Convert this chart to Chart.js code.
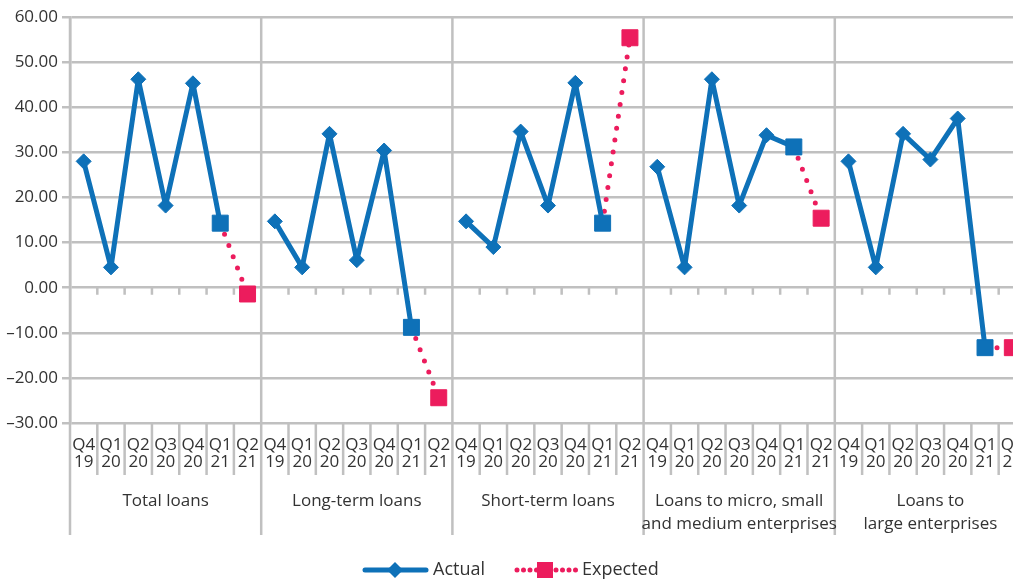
<!DOCTYPE html>
<html>
<head>
<meta charset="utf-8">
<script src="https://cdn.jsdelivr.net/npm/chart.js@4/dist/chart.umd.min.js"></script>
<style>
  html, body { margin: 0; padding: 0; background: #fff; overflow: hidden; }
  #wrap { width: 1040px; height: 586px; position: relative; }
</style>
</head>
<body>
<div id="wrap"><canvas id="chart"></canvas></div>
<script>
const GROUPS = [
  ['Total loans'],
  ['Long-term loans'],
  ['Short-term loans'],
  ['Loans to micro, small', 'and medium enterprises'],
  ['Loans to', 'large enterprises'],
];
const QUARTERS = [['Q4', '19'], ['Q1', '20'], ['Q2', '20'], ['Q3', '20'], ['Q4', '20'], ['Q1', '21'], ['Q2', '21']];

// actual values per group, Q4 19 .. Q1 21 (Q2 21 not yet known)
const ACTUAL_TOTAL = [28.0, 4.5, 46.2, 18.2, 45.3, 14.3, null];
const ACTUAL_LONG  = [14.7, 4.5, 34.1, 6.1, 30.4, -8.8, null];
const ACTUAL_SHORT = [14.7, 9.0, 34.6, 18.2, 45.4, 14.3, null];
const ACTUAL_SME   = [26.8, 4.5, 46.2, 18.2, 33.8, 31.2, null];
const ACTUAL_LARGE = [28.0, 4.5, 34.1, 28.4, 37.5, -13.3, null];

// expected: from last actual (Q1 21) to Q2 21
const EXPECTED_TOTAL = [null, null, null, null, null, 14.3, -1.4];
const EXPECTED_LONG  = [null, null, null, null, null, -8.8, -24.4];
const EXPECTED_SHORT = [null, null, null, null, null, 14.3, 55.4];
const EXPECTED_SME   = [null, null, null, null, null, 31.2, 15.4];
const EXPECTED_LARGE = [null, null, null, null, null, -13.3, -13.3];

const Y_MIN = -30, Y_MAX = 60, Y_STEP = 10;

const BLUE = '#0E71B8';
const PINK = '#EC1C5D';
const GRID = '#C0C0C0';
const TEXT = '#333333';
const FONT = "'Open Sans', 'Noto Sans', sans-serif";

const labels   = GROUPS.flatMap(() => QUARTERS);
const actual   = [].concat(ACTUAL_TOTAL, ACTUAL_LONG, ACTUAL_SHORT, ACTUAL_SME, ACTUAL_LARGE);
const expected = [].concat(EXPECTED_TOTAL, EXPECTED_LONG, EXPECTED_SHORT, EXPECTED_SME, EXPECTED_LARGE);
const PER = QUARTERS.length;

// separators, group names and the legend
const frame = {
  id: 'frame',
  beforeDatasetsDraw(chart) {
    const { ctx, chartArea: a, scales: { x, y } } = chart;
    const step = x.getPixelForValue(1) - x.getPixelForValue(0);
    const y0 = y.getPixelForValue(0);
    ctx.save();
    ctx.strokeStyle = GRID;
    ctx.lineWidth = 2.5;
    for (let i = 0; i <= labels.length; i++) {
      const px = x.getPixelForValue(i) - step / 2;
      ctx.beginPath();
      if (i % PER === 0) {
        ctx.moveTo(px, a.top);
        ctx.lineTo(px, a.bottom + 112);
      } else {
        ctx.moveTo(px, y0);
        ctx.lineTo(px, y0 + 7);
        ctx.moveTo(px, a.bottom);
        ctx.lineTo(px, a.bottom + 52);
      }
      ctx.stroke();
    }
    ctx.restore();
  },
  afterDraw(chart) {
    const { ctx, chartArea: a, scales: { x } } = chart;
    ctx.save();
    ctx.fillStyle = TEXT;
    ctx.font = `17px ${FONT}`;
    ctx.textAlign = 'center';
    ctx.textBaseline = 'middle';
    GROUPS.forEach((g, k) => {
      const cx = (x.getPixelForValue(k * PER) + x.getPixelForValue(k * PER + PER - 1)) / 2;
      g.forEach((line, j) => ctx.fillText(line, cx, a.bottom + 78 + j * 23));
    });

    // legend
    const ly = 570;
    ctx.font = `18px ${FONT}`;
    ctx.textAlign = 'left';
    ctx.lineWidth = 5;
    ctx.lineCap = 'round';

    ctx.strokeStyle = BLUE;
    ctx.beginPath();
    ctx.moveTo(365, ly); ctx.lineTo(426, ly);
    ctx.stroke();
    ctx.fillStyle = BLUE;
    ctx.beginPath();
    ctx.moveTo(387, ly); ctx.lineTo(395, ly - 8); ctx.lineTo(403, ly); ctx.lineTo(395, ly + 8);
    ctx.closePath(); ctx.fill();
    ctx.fillStyle = TEXT;
    ctx.fillText('Actual', 433, ly);

    ctx.strokeStyle = PINK;
    ctx.setLineDash([0, 6.5]);
    ctx.beginPath();
    ctx.moveTo(517, ly); ctx.lineTo(577, ly);
    ctx.stroke();
    ctx.setLineDash([]);
    ctx.fillStyle = PINK;
    ctx.fillRect(537, ly - 8, 16, 16);
    ctx.fillStyle = TEXT;
    ctx.fillText('Expected', 582, ly);
    ctx.restore();
  },
};

new Chart(document.getElementById('chart'), {
  type: 'line',
  data: {
    labels,
    datasets: [
      {
        label: 'Actual',
        data: actual,
        borderColor: BLUE,
        backgroundColor: BLUE,
        borderWidth: 5,
        borderJoinStyle: 'round',
        tension: 0,
        spanGaps: false,
        pointStyle: c => (c.dataIndex % PER === PER - 2 ? 'rect' : 'rectRot'),
        pointRadius: c => (c.dataIndex % PER === PER - 2 ? 11.3 : 7.5),
        pointBorderWidth: 1,
        pointBackgroundColor: BLUE,
        pointBorderColor: BLUE,
      },
      {
        label: 'Expected',
        data: expected,
        borderColor: PINK,
        backgroundColor: PINK,
        borderWidth: 5,
        borderDash: [0, 12],
        borderCapStyle: 'round',
        tension: 0,
        spanGaps: false,
        pointStyle: 'rect',
        pointRadius: c => (c.dataIndex % PER === PER - 1 ? 11.3 : 0),
        pointBorderWidth: 1,
        pointBackgroundColor: PINK,
        pointBorderColor: PINK,
      },
    ],
  },
  options: {
    responsive: true,
    maintainAspectRatio: false,
    animation: false,
    devicePixelRatio: 1,
    layout: { padding: { top: 17, right: 14, bottom: 0, left: 0 } },
    plugins: { legend: { display: false }, tooltip: { enabled: false } },
    scales: {
      x: {
        type: 'category',
        offset: true,
        grid: { display: false, drawTicks: false },
        border: { display: false },
        ticks: {
          autoSkip: false, maxRotation: 0, minRotation: 0, padding: 14,
          color: TEXT, font: { family: FONT, size: 17, lineHeight: 1 },
        },
        afterFit: s => { s.height = 163; },
      },
      y: {
        min: Y_MIN,
        max: Y_MAX,
        ticks: {
          stepSize: Y_STEP, padding: 4, color: TEXT,
          font: { family: FONT, size: 17 },
          callback: v => (v < 0 ? '–' + Math.abs(v).toFixed(2) : v.toFixed(2)),
        },
        grid: { color: GRID, lineWidth: 2.5, tickLength: 8 },
        border: { display: true, color: GRID, width: 2.5 },
        afterFit: s => { s.width = 70; },
      },
    },
  },
  plugins: [frame],
});
</script>
</body>
</html>
